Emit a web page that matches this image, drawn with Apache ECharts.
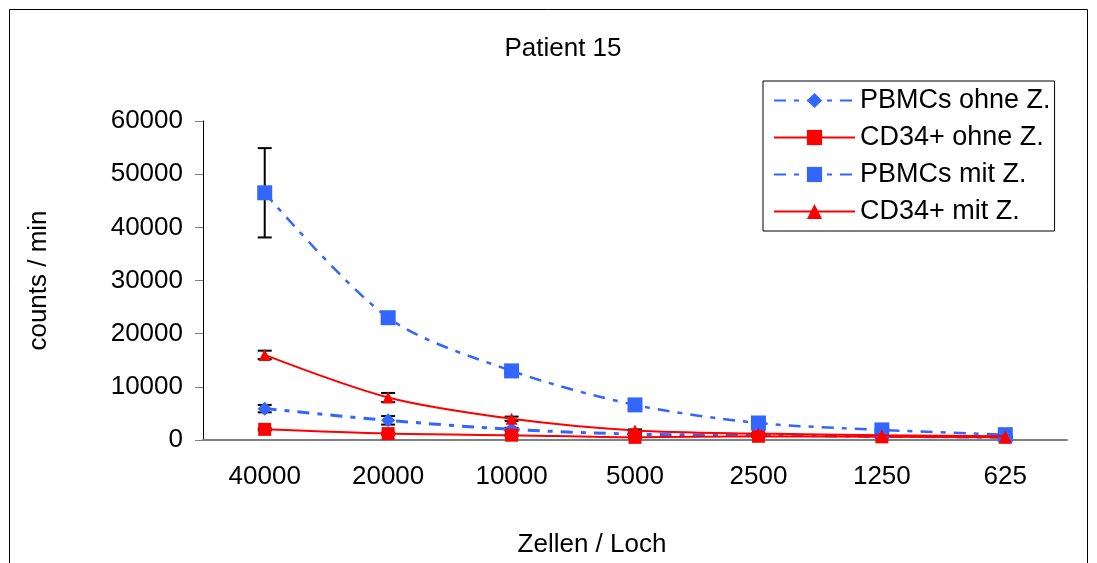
<!DOCTYPE html>
<html>
<head>
<meta charset="utf-8">
<style>
  html, body { margin: 0; padding: 0; background: #fff; }
  #chart { width: 1097px; height: 563px; }
</style>
<script src="https://cdn.jsdelivr.net/npm/echarts@6/dist/echarts.min.js"></script>
</head>
<body>
<div id="chart"></div>
<script>
// Zellen pro Loch
const categories = ['40000', '20000', '10000', '5000', '2500', '1250', '625']

// Mittelwerte (counts / min)
const pbmcOhne = [5900, 3700, 2000, 1100, 900, 700, 500]
const cd34Ohne = [2000, 1200, 900, 500, 700, 600, 500]
const pbmcMit = [46500, 23000, 13000, 6600, 3200, 1900, 1000]
const cd34Mit = [16000, 8000, 4000, 1800, 1200, 900, 700]

// Fehlerbalken (+/-)
const pbmcOhneErr = [700, 800, 300, 200, 200, 150, 100]
const cd34OhneErr = [200, 200, 150, 100, 100, 100, 100]
const pbmcMitErr = [8400, 600, 500, 400, 300, 200, 200]
const cd34MitErr = [800, 850, 400, 200, 150, 100, 100]

const yTicks = [0, 10000, 20000, 30000, 40000, 50000, 60000]

const BLUE = '#3366ff'
const RED = '#ff0000'
const FONT = 'Liberation Sans, Arial, sans-serif'

// Fehlerbalken als custom series
function errorSeries(values, errs) {
  return {
    type: 'custom',
    z: 1,
    silent: true,
    data: values.map((v, i) => [i, v - errs[i], v + errs[i]]),
    renderItem(params, api) {
      const lo = api.coord([api.value(0), api.value(1)])
      const hi = api.coord([api.value(0), api.value(2)])
      const w = 7
      const style = { stroke: '#000', lineWidth: 2 }
      return {
        type: 'group',
        children: [
          { type: 'line', shape: { x1: lo[0], y1: lo[1], x2: hi[0], y2: hi[1] }, style },
          { type: 'line', shape: { x1: lo[0] - w, y1: lo[1], x2: lo[0] + w, y2: lo[1] }, style },
          { type: 'line', shape: { x1: hi[0] - w, y1: hi[1], x2: hi[0] + w, y2: hi[1] }, style },
        ],
      }
    },
  }
}

const myChart = echarts.init(document.getElementById('chart'))
const option = {
  animation: false,
  backgroundColor: '#fff',
  textStyle: { fontFamily: FONT },
  graphic: [
    {
      type: 'rect',
      shape: { x: 9.5, y: 9.5, width: 1078, height: 600 },
      style: { fill: 'none', stroke: '#000', lineWidth: 1 },
    },
  ],
  title: {
    text: 'Patient 15',
    left: 558,
    top: 31,
    textAlign: 'center',
    textStyle: { fontFamily: FONT, fontSize: 26, fontWeight: 'normal', color: '#000' },
  },
  legend: {
    orient: 'vertical',
    left: 763,
    top: 81,
    padding: [6, 4, 6, 10],
    borderColor: '#000',
    borderWidth: 1,
    itemWidth: 81,
    itemHeight: 19,
    itemGap: 10,
    textStyle: { fontFamily: FONT, fontSize: 27, color: '#000', lineHeight: 27 },
    data: ['PBMCs ohne Z.', 'CD34+ ohne Z.', 'PBMCs mit Z.', 'CD34+ mit Z.'],
  },
  grid: { left: 203, right: 30, top: 121, bottom: 121 },
  xAxis: {
    type: 'category',
    data: categories,
    boundaryGap: true,
    name: 'Zellen / Loch',
    nameLocation: 'middle',
    nameGap: 92,
    nameTextStyle: { fontFamily: FONT, fontSize: 26, color: '#000', padding: [0, 86, 0, 0] },
    axisLine: { lineStyle: { color: '#808080', width: 2 } },
    axisTick: { length: 9, lineStyle: { color: '#808080', width: 1 } },
    axisLabel: { fontFamily: FONT, fontSize: 26, color: '#000', margin: 24 },
  },
  yAxis: {
    type: 'value',
    min: yTicks[0],
    max: yTicks[yTicks.length - 1],
    interval: 10000,
    name: 'counts / min',
    nameLocation: 'middle',
    nameGap: 151,
    nameRotate: 90,
    nameTextStyle: { fontFamily: FONT, fontSize: 26, color: '#000' },
    axisLine: { show: true, lineStyle: { color: '#000', width: 1 } },
    axisTick: { show: true, length: 8, lineStyle: { color: '#808080' } },
    axisLabel: { fontFamily: FONT, fontSize: 26, color: '#000', margin: 20, formatter: v => String(v) },
    splitLine: { show: false },
  },
  series: [
    errorSeries(pbmcOhne, pbmcOhneErr),
    errorSeries(cd34Ohne, cd34OhneErr),
    errorSeries(pbmcMit, pbmcMitErr),
    errorSeries(cd34Mit, cd34MitErr),
    {
      name: 'PBMCs ohne Z.',
      type: 'line',
      z: 2,
      smooth: 0.3,
      data: pbmcOhne,
      symbol: 'diamond',
      symbolSize: 14,
      itemStyle: { color: BLUE },
      lineStyle: { color: BLUE, width: 3, type: [12, 8, 5, 8] },
    },
    {
      name: 'CD34+ ohne Z.',
      type: 'line',
      z: 3,
      smooth: 0.3,
      data: cd34Ohne,
      symbol: 'rect',
      symbolSize: 13,
      itemStyle: { color: RED },
      lineStyle: { color: RED, width: 2 },
    },
    {
      name: 'PBMCs mit Z.',
      type: 'line',
      z: 4,
      smooth: 0.3,
      data: pbmcMit,
      symbol: 'rect',
      symbolSize: 15,
      itemStyle: { color: BLUE },
      lineStyle: { color: BLUE, width: 2.5, type: [12, 8, 5, 8] },
    },
    {
      name: 'CD34+ mit Z.',
      type: 'line',
      z: 5,
      smooth: 0.3,
      data: cd34Mit,
      symbol: 'triangle',
      symbolSize: 12,
      itemStyle: { color: RED },
      lineStyle: { color: RED, width: 2 },
    },
  ],
}
myChart.setOption(option)
window.onresize = myChart.resize
</script>
</body>
</html>
